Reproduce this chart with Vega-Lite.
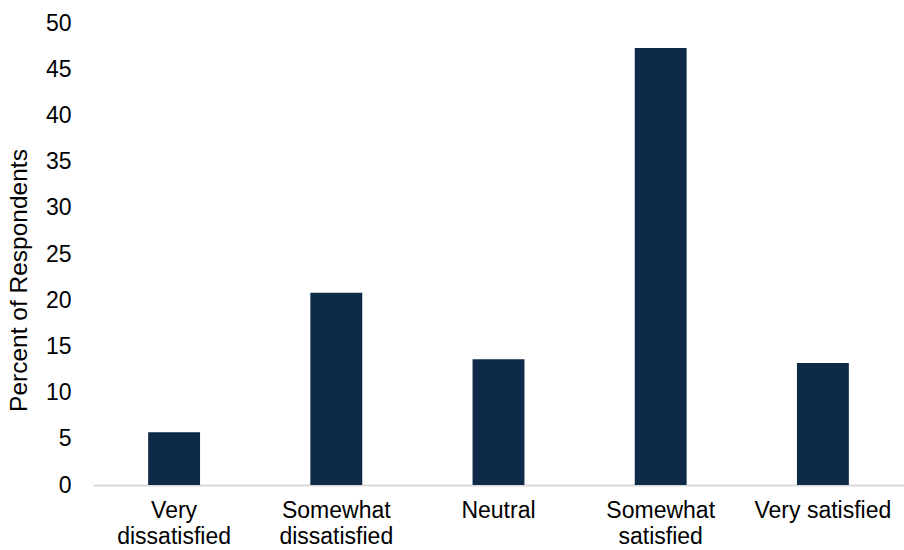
{
  "$schema": "https://vega.github.io/schema/vega-lite/v6.json",
  "autosize": "none",
  "padding": {"left": 93, "top": 23, "right": 0, "bottom": 65},
  "width": 811,
  "height": 462,
  "background": "white",
  "config": {
    "view": {"stroke": null},
    "font": "Liberation Sans"
  },
  "data": {
    "values": [
      {"response": "Very dissatisfied", "percent": 5.7},
      {"response": "Somewhat dissatisfied", "percent": 20.8},
      {"response": "Neutral", "percent": 13.6},
      {"response": "Somewhat satisfied", "percent": 47.3},
      {"response": "Very satisfied", "percent": 13.2}
    ]
  },
  "mark": {"type": "bar", "color": "#0e2a48"},
  "encoding": {
    "x": {
      "field": "response",
      "type": "nominal",
      "sort": null,
      "title": null,
      "scale": {"paddingInner": 0.68, "paddingOuter": 0.34},
      "axis": {
        "labelAngle": 0,
        "labelFontSize": 23,
        "labelColor": "#000000",
        "labelFont": "Liberation Sans",
        "labelPadding": 14,
        "labelLineHeight": 26,
        "labelBaseline": "top",
        "ticks": false,
        "domainColor": "#d9d9d9",
        "domainWidth": 2,
        "labelExpr": "datum.label == 'Very dissatisfied' ? ['Very', 'dissatisfied'] : datum.label == 'Somewhat dissatisfied' ? ['Somewhat', 'dissatisfied'] : datum.label == 'Somewhat satisfied' ? ['Somewhat', 'satisfied'] : datum.label"
      }
    },
    "y": {
      "field": "percent",
      "type": "quantitative",
      "title": "Percent of Respondents",
      "scale": {"domain": [0, 50]},
      "axis": {
        "values": [0, 5, 10, 15, 20, 25, 30, 35, 40, 45, 50],
        "grid": false,
        "domain": false,
        "ticks": false,
        "labelFontSize": 23,
        "labelColor": "#000000",
        "labelPadding": 22,
        "titleFontSize": 24.5,
        "titleFontWeight": "normal",
        "titleColor": "#000000",
        "titlePadding": 14,
        "titleY": 257
      }
    }
  }
}
